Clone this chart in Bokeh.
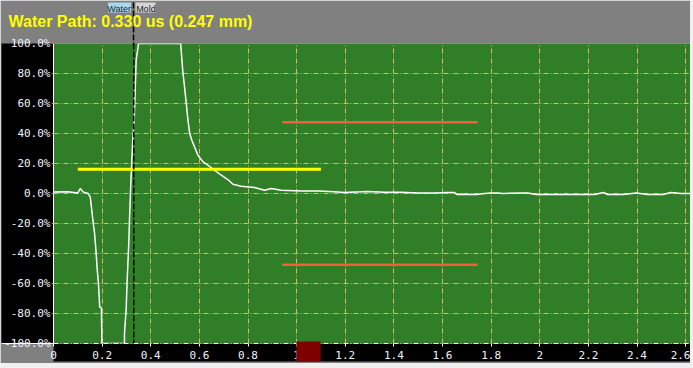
from bokeh.plotting import figure
from bokeh.models import (FixedTicker, PrintfTickFormatter, NumeralTickFormatter, Span,
                          LinearAxis, Title, Range1d)
from bokeh.layouts import column
from bokeh.embed import file_html
from bokeh.resources import INLINE

# ---- data ----
wave_t = [0.0, 0.06, 0.10, 0.11, 0.121, 0.142, 0.151, 0.155, 0.162, 0.169, 0.175, 0.18, 0.185,
          0.19, 0.197, 0.199, 0.292, 0.292, 0.299, 0.303, 0.309, 0.313, 0.318, 0.326, 0.332,
          0.336, 0.34, 0.35, 0.523, 0.532, 0.539, 0.546, 0.553, 0.56, 0.569, 0.58, 0.594,
          0.615, 0.635, 0.662, 0.69, 0.717, 0.738, 0.772, 0.827, 0.868, 0.896, 0.937, 1.019,
          1.088, 1.155, 1.196, 1.266, 1.293, 1.361, 1.43, 1.499, 1.567, 1.622, 1.649, 1.659,
          1.677, 1.711, 1.738, 1.773, 1.80, 1.829, 1.848, 1.924, 1.951, 1.985, 2.067, 2.129,
          2.198, 2.225, 2.262, 2.28, 2.301, 2.342, 2.397, 2.445, 2.506, 2.54, 2.581, 2.62]
wave_pct = [1.0, 1.1, 0.4, 3.3, 1.1, 0.0, -2.3, -7.8, -17.8, -26.7, -38.9, -51.1, -60.0,
            -75.6, -76.5, -100.0, -100.0, -93.3, -76.7, -57.8, -35.6, -15.6, 6.9, 35.5, 48.9,
            68.9, 88.9, 100.0, 100.0, 81.1, 71.1, 60.2, 48.9, 40.2, 35.5, 31.1, 25.5,
            21.1, 18.9, 15.5, 12.2, 9.3, 6.2, 4.9, 4.0, 2.2, 3.3, 2.2, 1.7,
            1.7, 1.1, 0.7, 1.1, 1.3, 0.9, 0.9, 0.4, 0.4, 0.7, 0.7, -0.7,
            -0.5, -0.7, -0.7, 0.0, 0.4, 0.4, 0.0, 0.4, 0.4, -0.7, -0.7, -0.7,
            -0.7, -0.7, 0.7, -0.7, -0.7, -0.7, 0.4, -0.7, -0.7, 0.7, 0.0, 0.0]

gate_start, gate_end, gate_level = 0.10, 1.10, 16.2
band_start, band_end = 0.94, 1.745
band_levels = [47.5, -47.5]
marker_t = 0.33
marker_tags = ["Water", "Mold"]
highlight_start, highlight_end = 1.0, 1.1
x_ticks = [0, 0.2, 0.4, 0.6, 0.8, 1.0, 1.2, 1.4, 1.6, 1.8, 2.0, 2.2, 2.4, 2.6]
y_ticks = [-100, -80, -60, -40, -20, 0, 20, 40, 60, 80, 100]
title_text = "Water Path: 0.330 us (0.247 mm)"

GREEN = "#307f28"
GRID = "#d8b870"
MONO = "DejaVu Sans Mono"
X_END = 2.62
FRAME_W = 637
PX_PER_UNIT = FRAME_W / X_END

p = figure(width=690, height=363, x_range=Range1d(0, X_END), y_range=Range1d(-100, 100),
           output_backend="svg", toolbar_location=None, title=None,
           min_border_left=53, min_border_right=0, min_border_top=43, min_border_bottom=20,
           background_fill_color=GREEN, border_fill_color="#808080", outline_line_color=None)

xax = p.below[0]
yax = p.left[0]


def tick_axis(pos, tick_in=0, tick_out=0, width=1, color=None, dash="solid"):
    """A label-less axis used only for its tick mark(s)."""
    return LinearAxis(ticker=FixedTicker(ticks=pos), axis_line_color=None,
                      major_tick_line_color=color, major_tick_line_width=width,
                      major_tick_line_dash=dash, major_tick_in=tick_in, major_tick_out=tick_out,
                      minor_tick_line_color=None, minor_tick_out=0, minor_tick_in=0,
                      major_label_standoff=0, major_label_text_font_size="0px",
                      major_label_overrides={v: "" for v in pos})


tag_pos = [marker_t - 0.06, marker_t + 0.05]

# header, from the frame outward: spacer, title, tag backgrounds, marker line, tag texts
p.add_layout(tick_axis([marker_t], tick_out=12), "above")
t = Title(text=title_text, text_color="#ffff00", text_font="Liberation Sans",
          text_font_style="bold", text_font_size="16px", align="left", offset=-45,
          standoff=0, vertical_align="top")
p.add_layout(t, "above")
p.add_layout(tick_axis([tag_pos[0]], tick_out=10, width=23, color="#a8d8ea"), "above")
p.add_layout(tick_axis([tag_pos[1]], tick_in=10, width=20, color="#d4d4d4"), "above")
p.add_layout(tick_axis([marker_t], tick_in=43, width=1.5, color="black", dash="6 2"), "above")
tag_axis = LinearAxis(ticker=FixedTicker(ticks=tag_pos),
                      major_label_overrides=dict(zip(tag_pos, marker_tags)),
                      axis_line_color=None, major_tick_line_color=None,
                      major_tick_out=0, major_tick_in=0,
                      minor_tick_line_color=None, minor_tick_out=0, minor_tick_in=0,
                      major_label_standoff=-11,
                      major_label_text_font="Liberation Sans",
                      major_label_text_font_size="9px", major_label_text_color="#1a2430")
p.add_layout(tag_axis, "above")

# main axes
xax.ticker = FixedTicker(ticks=x_ticks)
xax.formatter = NumeralTickFormatter(format="0.[0]")
yax.ticker = FixedTicker(ticks=y_ticks)
yax.formatter = PrintfTickFormatter(format="%.1f%%")
for ax in (xax, yax):
    ax.major_label_text_font = MONO
    ax.major_label_text_font_size = "11px"
    ax.major_label_text_color = "#f0f4ff"
    ax.minor_tick_line_color = None
    ax.axis_line_color = "white"
    ax.background_fill_color = "black"
    ax.background_fill_alpha = 1.0
xax.major_tick_line_color = "white"
xax.major_tick_out = 3
xax.major_tick_in = 0
xax.major_label_standoff = 4
xax.axis_line_dash = "5 2 1 2"
yax.major_tick_line_color = "#ff6040"
yax.major_tick_out = 2
yax.major_tick_in = 0
yax.major_label_standoff = 1

# highlighted stretch on the time axis
p.add_layout(tick_axis([(highlight_start + highlight_end) / 2], tick_in=20,
                       width=(highlight_end - highlight_start) * PX_PER_UNIT,
                       color="#800000"), "below")
# white rule continuing the time axis through the label strip
p.add_layout(tick_axis([y_ticks[0]], tick_in=53, width=1, color="white"), "left")

# grid
p.xgrid.ticker = FixedTicker(ticks=x_ticks)
p.ygrid.ticker = FixedTicker(ticks=y_ticks)
for g in (p.xgrid, p.ygrid):
    g.grid_line_color = GRID
    g.grid_line_dash = "5 2 1 2"
    g.grid_line_width = 1

# data
p.line(wave_t, wave_pct, line_color="white", line_width=1.5)
p.line([gate_start, gate_end], [gate_level, gate_level], line_color="#ffff00", line_width=3)
p.segment(x0=[band_start] * 2, y0=band_levels, x1=[band_end] * 2, y1=band_levels,
          line_color="#f0603c", line_width=2.5)

# marker line
p.add_layout(Span(location=marker_t, dimension="height", line_color="black",
                  line_dash="6 2", line_width=1.5))

layout = column(p, width=693, height=368, styles={"background-color": "#f0f0f0"})
open("out.html", "w").write(file_html(layout, INLINE))
